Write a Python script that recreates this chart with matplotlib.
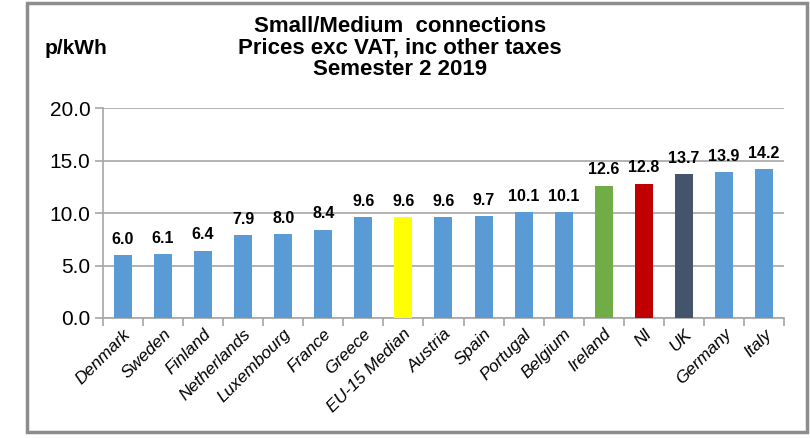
import numpy as np
import matplotlib.pyplot as plt
from matplotlib.patches import Rectangle

plt.rcParams['font.family'] = ['Liberation Sans', 'DejaVu Sans']

countries = ['Denmark', 'Sweden', 'Finland', 'Netherlands', 'Luxembourg', 'France',
             'Greece', 'EU-15 Median', 'Austria', 'Spain', 'Portugal', 'Belgium',
             'Ireland', 'NI', 'UK', 'Germany', 'Italy']
prices = [6.0, 6.1, 6.4, 7.9, 8.0, 8.4, 9.6, 9.6, 9.6, 9.7, 10.1, 10.1,
          12.6, 12.8, 13.7, 13.9, 14.2]

blue = '#5B9BD5'
highlight = {'EU-15 Median': '#FFFF00', 'Ireland': '#70AD47',
             'NI': '#C00000', 'UK': '#44546A'}
colors = [highlight.get(c, blue) for c in countries]

fig = plt.figure(figsize=(8.1, 4.38), dpi=100)
ax = fig.add_axes([0.127, 0.274, 0.841, 0.479])

x = np.arange(len(countries))
bars = ax.bar(x, prices, width=0.45, color=colors, zorder=3)
for xi, v in zip(x, prices):
    ax.text(xi, v + 0.8, f'{v:.1f}', ha='center', va='bottom',
            fontsize=11.5, fontweight='bold')

ax.set_xlim(-0.5, len(countries) - 0.5)
ax.set_ylim(0, 20)
ax.set_yticks(np.arange(0, 20.1, 5))
ax.set_yticklabels([f'{t:.1f}' for t in np.arange(0, 20.1, 5)], fontsize=15)
ax.yaxis.grid(True, color='#A6A6A6', linewidth=1.2, zorder=0)

# category labels, boundary ticks
ax.set_xticks(x)
ax.set_xticklabels(countries, rotation=45, ha='right', rotation_mode='anchor',
                   fontsize=12.5, fontstyle='italic')
ax.tick_params(axis='x', length=0, pad=6)
ax.set_xticks(np.arange(-0.5, len(countries)), minor=True)
ax.tick_params(axis='x', which='minor', length=6, color='#A6A6A6', width=1.2)
ax.tick_params(axis='y', length=6, color='#A6A6A6', width=1.2, pad=3)

for s in ['top', 'right']:
    ax.spines[s].set_visible(False)
for s in ['left', 'bottom']:
    ax.spines[s].set_color('#A6A6A6')
    ax.spines[s].set_linewidth(1.2)

fig.text(0.494, 0.963, 'Small/Medium  connections\nPrices exc VAT, inc other taxes\nSemester 2 2019',
         ha='center', va='top', fontsize=16, fontweight='bold', linespacing=1.02)
fig.text(0.055, 0.89, 'p/kWh', ha='left', va='center', fontsize=15, fontweight='bold')

# outer frame
fig.patches.append(Rectangle((0.033, 0.014), 0.963, 0.98, transform=fig.transFigure,
                             fill=False, edgecolor='#8C8C8C', linewidth=2.5))

fig.savefig('out.png', dpi=100)
